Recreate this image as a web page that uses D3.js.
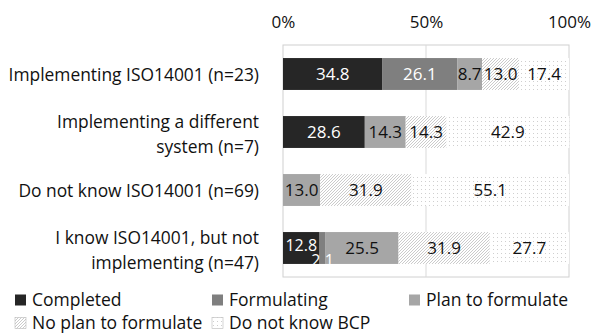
<!DOCTYPE html>
<html><head><meta charset="utf-8">
<script src="https://cdn.jsdelivr.net/npm/d3@7"></script>
<style>body{margin:0;background:#fff}svg{display:block}text{font-family:"Open Sans",sans-serif}</style>
</head><body><svg id="c" width="593" height="336"></svg>
<script>
const categories = ["Implementing ISO14001 (n=23)", "Implementing a different system (n=7)", "Do not know ISO14001 (n=69)", "I know ISO14001, but not implementing (n=47)"];
const categoryLines = [["Implementing ISO14001 (n=23)"], ["Implementing a different", "system (n=7)"], ["Do not know ISO14001 (n=69)"], ["I know ISO14001, but not", "implementing (n=47)"]];
const seriesNames = ["Completed", "Formulating", "Plan to formulate", "No plan to formulate", "Do not know BCP"];
const completed = [34.8, 28.6, 0, 12.8];
const formulating = [26.1, 0, 0, 2.1];
const planToFormulate = [8.7, 14.3, 13.0, 25.5];
const noPlan = [13.0, 14.3, 31.9, 31.9];
const doNotKnow = [17.4, 42.9, 55.1, 27.7];
const tickValues = [0, 50, 100];

const svg = d3.select("#c");
const defs = svg.append("defs");
const hatch = defs.append("pattern").attr("id", "hatch").attr("patternUnits", "userSpaceOnUse").attr("width", 3).attr("height", 3);
hatch.append("rect").attr("width", 3).attr("height", 3).attr("fill", "#fff");
hatch.append("path").attr("d", "M-1,1 l2,-2 M0,3 l3,-3 M2,4 l2,-2").attr("stroke", "#b4b4b4").attr("stroke-width", 0.7);
const dots = defs.append("pattern").attr("id", "dots").attr("patternUnits", "userSpaceOnUse").attr("width", 4).attr("height", 4);
dots.append("rect").attr("width", 4).attr("height", 4).attr("fill", "#fff");
dots.append("rect").attr("x", 1).attr("y", 1).attr("width", 1).attr("height", 1).attr("fill", "#cfcfcf");

const fills = ["#262626", "#7f7f7f", "#a6a6a6", "url(#hatch)", "url(#dots)"];
const labelColors = ["#fff", "#fff", "#111", "#111", "#111"];
const series = [completed, formulating, planToFormulate, noPlan, doNotKnow];

const x = d3.scaleLinear().domain([0, 100]).range([283, 569]);
const y = d3.scaleBand().domain(categories).range([45, 277]).paddingInner(0.45).paddingOuter(0.225);

// frame and gridline
svg.append("rect").attr("x", 283).attr("y", 45).attr("width", 286).attr("height", 232).attr("fill", "none").attr("stroke", "#d0d0d0");
svg.append("line").attr("x1", x(50)).attr("x2", x(50)).attr("y1", 45).attr("y2", 277).attr("stroke", "#d9d9d9");

// top axis
const axis = d3.axisTop(x).tickValues(tickValues).tickFormat(d => d + "%").tickSize(0).tickPadding(0);
const ax = svg.append("g").attr("transform", "translate(0,22)").call(axis);
ax.select(".domain").remove();
ax.selectAll("text").attr("font-size", 17).attr("fill", "#111").attr("font-family", "Open Sans").attr("dy", "0.35em");

const stack = d3.stack().keys(d3.range(5))(categories.map((c, i) => series.map(s => s[i])));
stack.forEach((layer, k) => {
  const g = svg.append("g");
  layer.forEach((seg, i) => {
    const v = series[k][i];
    if (!v) return;
    g.append("rect").attr("x", x(seg[0])).attr("y", y(categories[i]))
      .attr("width", x(seg[1]) - x(seg[0])).attr("height", y.bandwidth()).attr("fill", fills[k]);
  });
});
// value labels; a thin segment's label drops below its neighbour's
stack.forEach((layer, k) => {
  layer.forEach((seg, i) => {
    const v = series[k][i];
    if (!v) return;
    const next = series[k + 1] ? series[k + 1][i] : 0;
    const small = v < 5;
    const crowded = !small && k < 4 && next > 0 && next < 5;
    svg.append("text").attr("x", (x(seg[0]) + x(seg[1])) / 2)
      .attr("y", y(categories[i]) + y.bandwidth() / 2 + (small ? 12 : crowded ? -3 : 0))
      .attr("dy", "0.35em").attr("text-anchor", "middle")
      .attr("font-size", small || crowded ? 16 : 17).attr("fill", labelColors[k]).text(v.toFixed(1));
  });
});

// category labels
categories.forEach((c, i) => {
  const lines = categoryLines[i];
  const cy = y(c) + y.bandwidth() / 2 + (lines.length > 1 ? 2 : 1);
  lines.forEach((ln, j) => {
    svg.append("text").attr("x", 259).attr("y", cy + (j - (lines.length - 1) / 2) * 25)
      .attr("dy", "0.35em").attr("text-anchor", "end").attr("font-size", 17.4).attr("fill", "#111").text(ln);
  });
});

// legend
const legendPos = [[15, 300], [212, 300], [409, 300], [15, 323], [212, 323]];
seriesNames.forEach((n, k) => {
  const [lx, ly] = legendPos[k];
  svg.append("rect").attr("x", lx).attr("y", ly - 5.5).attr("width", 11).attr("height", 11)
    .attr("fill", fills[k]).attr("stroke", k >= 3 ? "#b8b8b8" : "none").attr("stroke-width", 0.6);
  svg.append("text").attr("x", lx + 17).attr("y", ly).attr("dy", "0.35em").attr("font-size", 17.5).attr("fill", "#111").text(n);
});
</script></body></html>
